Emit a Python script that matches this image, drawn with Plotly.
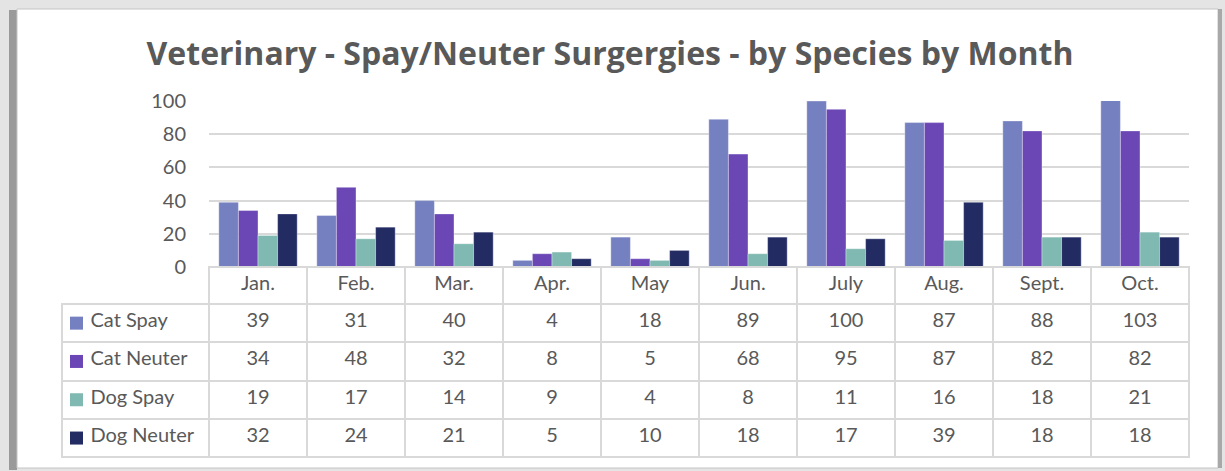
import plotly.graph_objects as go

months = ["Jan.", "Feb.", "Mar.", "Apr.", "May", "Jun.", "July", "Aug.", "Sept.", "Oct."]
series_names = ["Cat Spay", "Cat Neuter", "Dog Spay", "Dog Neuter"]
cat_spay = [39, 31, 40, 4, 18, 89, 100, 87, 88, 103]
cat_neuter = [34, 48, 32, 8, 5, 68, 95, 87, 82, 82]
dog_spay = [19, 17, 14, 9, 4, 8, 11, 16, 18, 21]
dog_neuter = [32, 24, 21, 5, 10, 18, 17, 39, 18, 18]
colors = ["#7480c0", "#6b47b6", "#7fb9b1", "#232b63"]
y_ticks = [0, 20, 40, 60, 80, 100]

series = [cat_spay, cat_neuter, dog_spay, dog_neuter]

W, H = 1225, 471
def px_x(p): return p / W
def px_y(p): return 1 - p / H

TEXT = "#595959"
GRID = "#d9d9d9"
FONT = "Lato, Noto Sans, sans-serif"
TITLE_FONT = "Open Sans, Noto Sans, sans-serif"
FS = 20

fig = go.Figure()
for name, vals, col in zip(series_names, series, colors):
    fig.add_trace(go.Bar(
        x=months, y=vals, name=name,
        marker=dict(color=col, line=dict(color="rgba(255,255,255,0.6)", width=0.6)),
        showlegend=False, hoverinfo="x+y+name",
    ))

# Data table below the chart
TABLE_TOP, HEADER_H, ROW_H = 267, 37, 38.3
TABLE_LEFT, FIRST_W, COL_W = 62, 147, 98
table_bottom = TABLE_TOP + HEADER_H + ROW_H * len(series_names)
NB = "\u00a0"
first_col = [NB * 4 + n.replace(" ", NB) for n in series_names]
cell_values = [first_col] + [[str(s[i]) for s in series] for i in range(len(months))]

fig.add_trace(go.Table(
    domain=dict(x=[px_x(TABLE_LEFT), px_x(TABLE_LEFT + FIRST_W + COL_W * len(months))],
                y=[px_y(table_bottom + 1), px_y(TABLE_TOP)]),
    columnwidth=[FIRST_W] + [COL_W] * len(months),
    header=dict(
        values=[""] + months,
        height=HEADER_H,
        align="center",
        fill=dict(color=["rgba(0,0,0,0)"] + ["white"] * len(months)),
        line=dict(color=["rgba(0,0,0,0)"] + [GRID] * len(months), width=2),
        font=dict(family=FONT, size=FS, color=TEXT),
    ),
    cells=dict(
        values=cell_values,
        height=ROW_H,
        align=["left"] + ["center"] * len(months),
        fill=dict(color="white"),
        line=dict(color=GRID, width=2),
        font=dict(family=FONT, size=FS, color=TEXT),
    ),
))

# frame of the chart object
shapes = [
    dict(type="rect", xref="paper", yref="paper", layer="below",
         x0=px_x(9), x1=px_x(17), y0=px_y(470), y1=px_y(10),
         fillcolor="#9a9a9a", line=dict(width=0)),
    dict(type="rect", xref="paper", yref="paper", layer="below",
         x0=px_x(17), x1=px_x(1218), y0=px_y(468), y1=px_y(9),
         fillcolor="white", line=dict(color="#c4c4c4", width=1)),
    dict(type="rect", xref="paper", yref="paper", layer="below",
         x0=px_x(1218), x1=px_x(1222), y0=px_y(468), y1=px_y(9),
         fillcolor="#a8a8a8", line=dict(width=0)),
]
# legend keys inside the table's first column
KEY = 13
for i, c in enumerate(colors):
    yc = TABLE_TOP + HEADER_H + ROW_H * (i + 0.5)
    xc = TABLE_LEFT + 14.5
    shapes.append(dict(
        type="rect", xref="paper", yref="paper", layer="above",
        x0=px_x(xc - KEY / 2), x1=px_x(xc + KEY / 2),
        y0=px_y(yc + KEY / 2), y1=px_y(yc - KEY / 2),
        fillcolor=c, line=dict(width=0),
    ))

fig.update_layout(
    template="none",
    width=W, height=H, autosize=False,
    margin=dict(l=0, r=0, t=0, b=0, pad=0, autoexpand=False),
    paper_bgcolor="#e4e4e4",
    plot_bgcolor="white",
    showlegend=False,
    barmode="group",
    bargap=0.2,
    bargroupgap=0,
    title=dict(
        text="<b>Veterinary - Spay/Neuter Surgergies - by Species by Month</b>",
        x=px_x(610), xanchor="center", y=px_y(54), yanchor="middle",
        font=dict(family=TITLE_FONT, size=32, color=TEXT),
    ),
    xaxis=dict(
        domain=[px_x(209), px_x(1189)], automargin=False,
        showticklabels=False, showgrid=False, zeroline=False,
        showline=False, ticks="",
    ),
    yaxis=dict(
        domain=[px_y(267), px_y(101)], automargin=False,
        range=[0, 100], tickvals=y_ticks, ticks="",
        showgrid=True, gridcolor=GRID, gridwidth=2,
        zeroline=False, showline=False,
        tickfont=dict(family=FONT, size=FS, color=TEXT),
        ticklabelstandoff=22,
    ),
    shapes=shapes,
)

fig.write_html(
    "out.html",
    config={"displayModeBar": False, "responsive": False},
    post_script="document.body.style.margin='0';document.body.style.overflow='hidden';",
)
